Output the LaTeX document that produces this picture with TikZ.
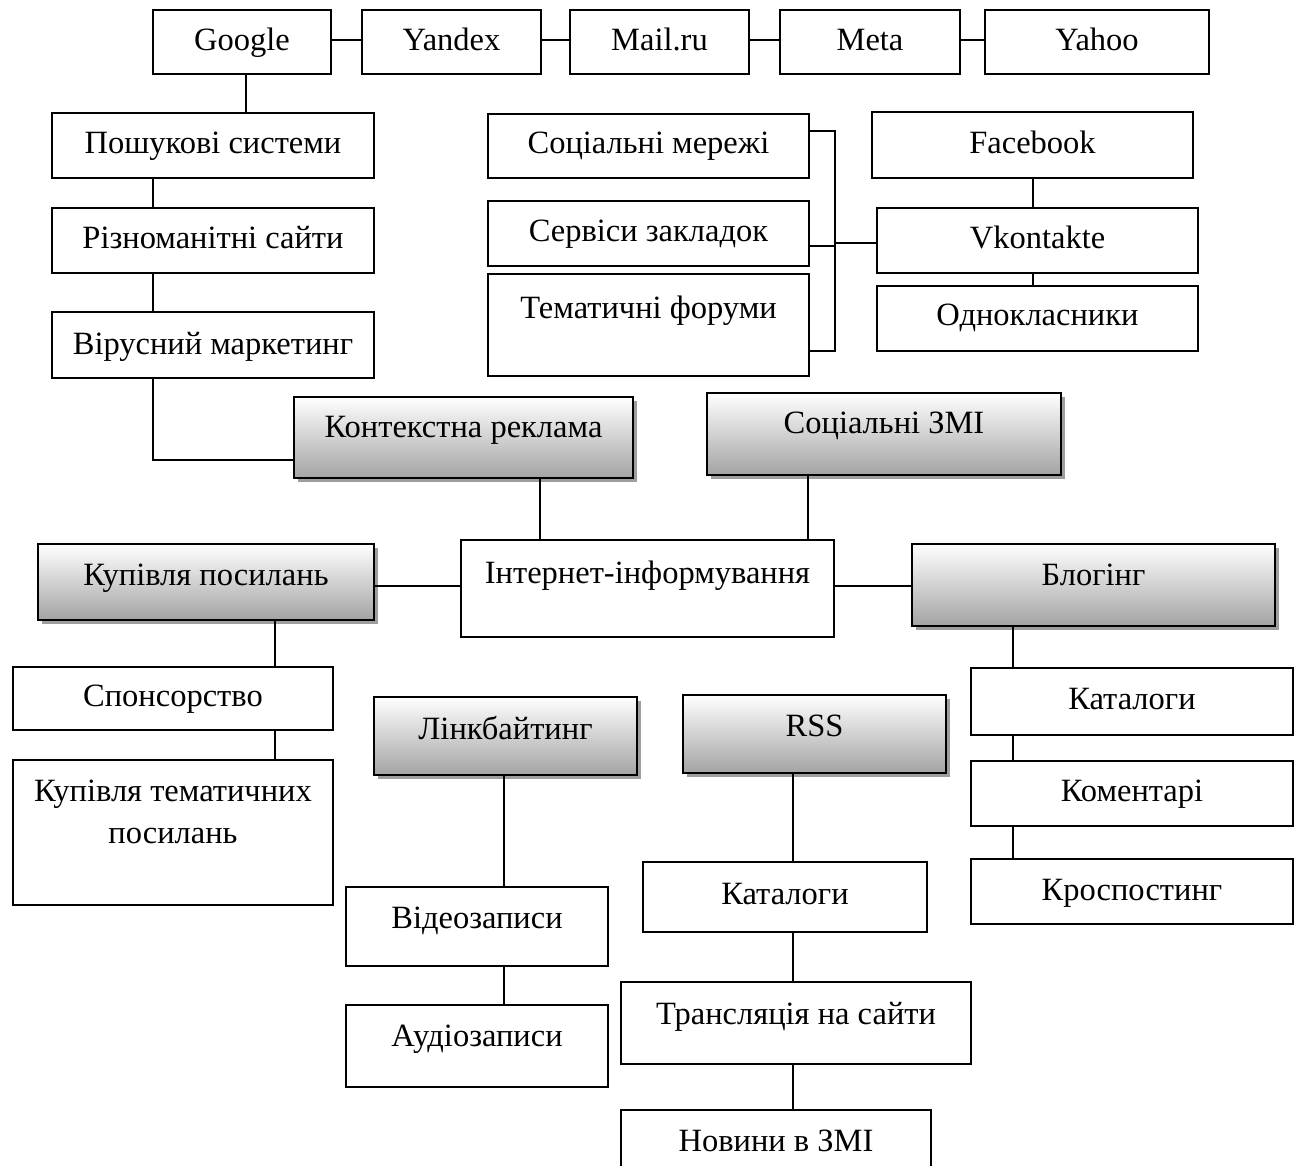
\documentclass[tikz,border=0pt]{standalone}
\usepackage{fontspec}
\setmainfont{Liberation Serif}
\usetikzlibrary{shadows}

\tikzset{
  box/.style={draw, line width=2.8pt, fill=white, inner sep=0pt},
  sbox/.style={box, top color=white, bottom color=black!36,
    drop shadow={shadow xshift=4pt, shadow yshift=-4pt, fill=black!38, opacity=1}},
  conn/.style={line width=1.9pt},
  lbl/.style={font=\fontsize{32.5}{42}\selectfont, anchor=base, inner sep=0pt, align=center},
}

% \mkbox{style}{name}{x1}{y1}{x2}{y2}{baseline of last line}{text}
\newcommand\mkbox[8]{%
  \node[#1, minimum width={(#5-#3)*1pt}, minimum height={(#6-#4)*1pt}]
    (#2) at ({(#3+#5)/2},{(#4+#6)/2}) {};
  \node[lbl] (#2-t) at ({(#3+#5)/2},#7) {#8};
}

\begin{document}
\begin{tikzpicture}[x=1pt,y=-1pt]
\useasboundingbox (0,0) rectangle (1300,1166);
\clip (0,0) rectangle (1300,1166);

% search engines
\mkbox{box}{google}{153}{10}{331}{74}{51}{Google}
\mkbox{box}{yandex}{362}{10}{541}{74}{51}{Yandex}
\mkbox{box}{mailru}{570}{10}{749}{74}{51}{Mail.ru}
\mkbox{box}{meta}{780}{10}{960}{74}{51}{Meta}
\mkbox{box}{yahoo}{985}{10}{1209}{74}{51}{Yahoo}

% left column
\mkbox{box}{posh}{52}{113}{374}{178}{154}{Пошукові системи}
\mkbox{box}{riz}{52}{208}{374}{273}{249}{Різноманітні сайти}
\mkbox{box}{vir}{52}{312}{374}{378}{354}{Вірусний маркетинг}

% middle group
\mkbox{box}{socm}{488}{114}{809}{178}{154}{Соціальні мережі}
\mkbox{box}{serv}{488}{201}{809}{266}{242}{Сервіси закладок}
\mkbox{box}{tem}{488}{274}{809}{376}{318}{Тематичні форуми}

% social networks
\mkbox{box}{fb}{872}{112}{1193}{178}{154}{Facebook}
\mkbox{box}{vk}{877}{208}{1198}{273}{248}{Vkontakte}
\mkbox{box}{odn}{877}{286}{1198}{351}{325}{Однокласники}

% main channels
\mkbox{sbox}{kont}{294}{397}{633}{478}{437}{Контекстна реклама}
\mkbox{sbox}{zmi}{707}{393}{1061}{475}{433}{Соціальні ЗМІ}
\mkbox{box}{inet}{461}{540}{834}{637}{583}{Інтернет-інформування}
\mkbox{sbox}{kup}{38}{544}{374}{620}{585}{Купівля посилань}
\mkbox{sbox}{blog}{912}{544}{1275}{626}{585}{Блогінг}
\mkbox{sbox}{link}{374}{697}{637}{775}{739}{Лінкбайтинг}
\mkbox{sbox}{rss}{683}{695}{946}{773}{736}{RSS}

% lower branches
\mkbox{box}{spon}{13}{667}{333}{730}{706}{Спонсорство}
\mkbox{box}{kupt}{13}{760}{333}{905}{843}{Купівля тематичних\\посилань}
\mkbox{box}{video}{346}{887}{608}{966}{928}{Відеозаписи}
\mkbox{box}{audio}{346}{1005}{608}{1087}{1046}{Аудіозаписи}
\mkbox{box}{katm}{643}{862}{927}{932}{904}{Каталоги}
\mkbox{box}{trans}{621}{982}{971}{1064}{1024}{Трансляція на сайти}
\mkbox{box}{novyny}{621}{1110}{931}{1200}{1151}{Новини в ЗМІ}
\mkbox{box}{katr}{971}{668}{1293}{735}{709}{Каталоги}
\mkbox{box}{kom}{971}{761}{1293}{826}{801}{Коментарі}
\mkbox{box}{kros}{971}{859}{1293}{924}{900}{Кроспостинг}

% connectors: search engines
\draw[conn] (google.east |- 0,40) -- (yandex.west |- 0,40);
\draw[conn] (yandex.east |- 0,40) -- (mailru.west |- 0,40);
\draw[conn] (mailru.east |- 0,40) -- (meta.west |- 0,40);
\draw[conn] (meta.east |- 0,40) -- (yahoo.west |- 0,40);
\draw[conn] (google.south -| 246,0) -- (posh.north -| 246,0);

% left column
\draw[conn] (posh.south -| 153,0) -- (riz.north -| 153,0);
\draw[conn] (riz.south -| 153,0) -- (vir.north -| 153,0);
\draw[conn] (vir.south -| 153,0) |- (kont.west |- 0,460);

% bracket of the middle group
\coordinate (br) at (835,243);
\draw[conn] (socm.east |- 0,131) -| (br |- 0,351) -- (tem.east |- 0,351);
\draw[conn] (serv.east |- 0,246) -- (br |- 0,246);
\draw[conn] (br) -- (vk.west |- br);
\draw[conn] (fb.south -| 1033,0) -- (vk.north -| 1033,0);
\draw[conn] (vk.south -| 1033,0) -- (odn.north -| 1033,0);

% centre
\draw[conn] (kont.south -| 540,0) -- (inet.north -| 540,0);
\draw[conn] (zmi.south -| 808,0) -- (inet.north -| 808,0);
\draw[conn] (kup.east |- 0,586) -- (inet.west |- 0,586);
\draw[conn] (inet.east |- 0,586) -- (blog.west |- 0,586);

% lower branches
\draw[conn] (kup.south -| 275,0) -- (spon.north -| 275,0);
\draw[conn] (spon.south -| 275,0) -- (kupt.north -| 275,0);
\draw[conn] (link.south -| 504,0) -- (video.north -| 504,0);
\draw[conn] (video.south -| 504,0) -- (audio.north -| 504,0);
\draw[conn] (rss.south -| 793,0) -- (katm.north -| 793,0);
\draw[conn] (katm.south -| 793,0) -- (trans.north -| 793,0);
\draw[conn] (trans.south -| 793,0) -- (novyny.north -| 793,0);
\draw[conn] (blog.south -| 1013,0) -- (katr.north -| 1013,0);
\draw[conn] (katr.south -| 1013,0) -- (kom.north -| 1013,0);
\draw[conn] (kom.south -| 1013,0) -- (kros.north -| 1013,0);
\end{tikzpicture}
\end{document}
